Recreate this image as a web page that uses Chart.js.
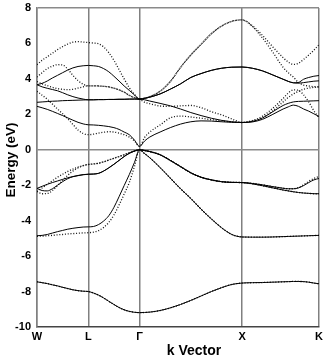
<!DOCTYPE html>
<html><head><meta charset="utf-8">
<script src="https://cdn.jsdelivr.net/npm/chart.js@4"></script>
<style>html,body{margin:0;padding:0;background:#fff}canvas{display:block}</style>
</head><body>
<canvas id="c" width="325" height="358"></canvas>
<script>
// k-path positions (W-L, L-Γ, Γ-X, X-K)
const K_PATH = [0,0.05,0.1,0.15,0.2,0.25,0.3,0.35,0.4,0.45,0.5,
  0.55,0.6,0.65,0.7,0.75,0.8,0.85,0.9,0.95,1.0,
  1.05,1.1,1.2,1.3,1.4,1.5,1.6,1.7,1.8,1.9,2.0,
  2.1,2.2,2.3,2.4,2.45,2.5,2.55,2.6,2.65,2.7,2.75];
const TICK_POS = [0, 0.5, 1, 2, 2.75];
const TICK_LABELS = ['W', 'L', 'Γ', 'X', 'K'];
const Y_TICKS = [8, 6, 4, 2, 0, -2, -4, -6, -8, -10];
const X_TITLE = 'k Vector';
const Y_TITLE = 'Energy (eV)';

// Solid-line bands (eV)
const S_V1 = [-7.45,-7.5,-7.55,-7.62,-7.68,-7.76,-7.83,-7.9,-7.95,-7.98,-8.0,
  -8.08,-8.2,-8.36,-8.55,-8.73,-8.9,-9.03,-9.12,-9.17,-9.19,
  -9.18,-9.16,-9.07,-8.92,-8.73,-8.5,-8.25,-8.0,-7.78,-7.6,-7.52,
  -7.5,-7.49,-7.47,-7.45,-7.44,-7.43,-7.43,-7.44,-7.47,-7.52,-7.56];
const S_V2 = [-4.85,-4.83,-4.78,-4.7,-4.62,-4.55,-4.48,-4.43,-4.39,-4.36,-4.35,
  -4.33,-4.22,-4.02,-3.72,-3.25,-2.65,-2.02,-1.4,-0.72,0,
  -0.22,-0.45,-1.0,-1.6,-2.2,-2.75,-3.35,-3.9,-4.4,-4.78,-4.92,
  -4.93,-4.93,-4.92,-4.9,-4.89,-4.88,-4.87,-4.86,-4.85,-4.84,-4.83];
const S_V3 = [-2.18,-2.06,-1.95,-1.85,-1.76,-1.67,-1.58,-1.51,-1.46,-1.41,-1.38,
  -1.37,-1.33,-1.2,-1.02,-0.82,-0.6,-0.38,-0.2,-0.07,0,
  -0.04,-0.1,-0.28,-0.6,-0.95,-1.3,-1.55,-1.7,-1.8,-1.84,-1.85,
  -1.9,-1.98,-2.08,-2.17,-2.2,-2.2,-2.15,-2.02,-1.85,-1.7,-1.62];
const S_V4 = [-2.18,-2.3,-2.32,-2.2,-2.0,-1.8,-1.63,-1.52,-1.45,-1.4,-1.38,
  -1.37,-1.33,-1.2,-1.02,-0.82,-0.6,-0.38,-0.2,-0.07,0,
  -0.04,-0.1,-0.28,-0.6,-0.95,-1.3,-1.55,-1.7,-1.8,-1.84,-1.85,
  -1.92,-2.03,-2.15,-2.27,-2.32,-2.37,-2.41,-2.44,-2.46,-2.48,-2.48];
const S_C1 = [2.45,2.37,2.28,2.17,2.05,1.93,1.8,1.67,1.55,1.46,1.41,
  1.4,1.38,1.35,1.31,1.25,1.15,1.0,0.85,0.55,0.19,
  0.5,0.72,1.0,1.25,1.45,1.58,1.63,1.62,1.58,1.55,1.54,
  1.6,1.8,2.15,2.5,2.62,2.7,2.73,2.74,2.75,2.76,2.77];
const S_C2 = [2.68,2.7,2.72,2.74,2.75,2.77,2.78,2.79,2.8,2.81,2.82,
  2.82,2.83,2.83,2.84,2.84,2.85,2.85,2.86,2.86,2.86,
  2.82,2.75,2.62,2.48,2.3,2.1,1.93,1.78,1.66,1.58,1.54,
  1.57,1.72,2.0,2.3,2.42,2.52,2.45,2.3,2.18,2.03,1.88];
const S_C3 = [3.67,3.55,3.47,3.4,3.33,3.22,3.1,3.0,2.92,2.86,2.82,
  2.82,2.83,2.83,2.84,2.84,2.85,2.85,2.86,2.86,2.86,
  2.9,2.97,3.15,3.42,3.72,4.08,4.3,4.48,4.6,4.66,4.67,
  4.6,4.45,4.22,3.98,3.86,3.78,3.76,3.79,3.83,3.87,3.89];
const S_C4 = [3.67,3.75,3.88,4.05,4.2,4.35,4.5,4.62,4.7,4.74,4.76,
  4.74,4.7,4.58,4.4,4.15,3.88,3.6,3.35,3.1,2.86,
  2.9,2.97,3.15,3.42,3.72,4.08,4.3,4.48,4.6,4.66,4.67,
  4.6,4.45,4.22,3.98,3.86,3.78,3.8,3.98,4.08,4.15,4.19];

// Dotted-line bands (eV)
const D_V1 = [-7.45,-7.5,-7.55,-7.62,-7.68,-7.76,-7.83,-7.9,-7.95,-7.98,-8.0,
  -8.08,-8.2,-8.36,-8.55,-8.73,-8.9,-9.03,-9.12,-9.17,-9.19,
  -9.18,-9.16,-9.07,-8.92,-8.73,-8.5,-8.25,-8.0,-7.78,-7.6,-7.52,
  -7.5,-7.49,-7.47,-7.45,-7.44,-7.43,-7.43,-7.44,-7.47,-7.52,-7.56];
const D_V2 = [-4.88,-4.87,-4.85,-4.83,-4.8,-4.78,-4.75,-4.73,-4.71,-4.69,-4.68,
  -4.65,-4.56,-4.38,-4.1,-3.68,-3.12,-2.5,-1.85,-0.95,0,
  -0.22,-0.45,-1.0,-1.6,-2.2,-2.75,-3.35,-3.9,-4.4,-4.78,-4.92,
  -4.93,-4.93,-4.92,-4.9,-4.89,-4.88,-4.87,-4.86,-4.85,-4.84,-4.83];
const D_V3 = [-2.35,-2.15,-1.95,-1.75,-1.55,-1.38,-1.22,-1.09,-0.98,-0.89,-0.83,
  -0.8,-0.76,-0.68,-0.58,-0.48,-0.38,-0.28,-0.17,-0.08,0,
  -0.04,-0.1,-0.28,-0.6,-0.95,-1.3,-1.55,-1.7,-1.8,-1.84,-1.85,
  -1.9,-1.98,-2.08,-2.17,-2.2,-2.2,-2.13,-1.98,-1.78,-1.62,-1.5];
const D_V4 = [-2.35,-2.48,-2.47,-2.3,-2.02,-1.72,-1.44,-1.2,-1.02,-0.9,-0.83,
  -0.8,-0.76,-0.68,-0.58,-0.48,-0.38,-0.28,-0.17,-0.08,0,
  -0.04,-0.1,-0.28,-0.6,-0.95,-1.3,-1.55,-1.7,-1.8,-1.84,-1.85,
  -1.92,-2.03,-2.15,-2.27,-2.32,-2.37,-2.41,-2.44,-2.46,-2.48,-2.48];
const D_C1 = [3.3,3.08,2.85,2.58,2.3,2.03,1.75,1.43,1.12,0.92,0.85,
  0.88,0.94,0.99,1.02,1.0,0.94,0.85,0.72,0.5,0.19,
  0.7,1.0,1.4,1.8,1.9,1.85,1.78,1.7,1.63,1.57,1.54,
  1.65,1.9,2.35,2.9,3.2,3.38,3.35,3.1,2.7,2.2,1.8];
const D_C2 = [3.85,3.72,3.62,3.52,3.45,3.41,3.39,3.41,3.48,3.55,3.61,
  3.61,3.6,3.58,3.55,3.48,3.38,3.25,3.07,2.94,2.86,
  2.68,2.6,2.47,2.45,2.48,2.5,2.38,2.15,1.97,1.74,1.54,
  1.62,1.8,2.2,2.7,2.95,3.15,3.3,3.42,3.48,3.52,3.55];
const D_C3 = [4.1,4.35,4.58,4.72,4.8,4.78,4.55,4.2,3.9,3.7,3.61,
  3.61,3.6,3.58,3.55,3.48,3.38,3.25,3.07,2.94,2.86,
  2.92,3.0,3.3,3.85,4.65,5.35,5.95,6.55,6.98,7.25,7.33,
  6.95,6.3,5.5,4.65,4.35,4.1,3.8,3.65,3.6,3.56,3.55];
const D_C4 = [4.8,5.05,5.25,5.45,5.65,5.82,5.97,6.07,6.1,6.08,6.05,
  6.02,5.98,5.8,5.48,5.05,4.52,4.0,3.5,3.12,2.86,
  2.92,3.0,3.3,3.85,4.65,5.35,5.95,6.55,6.98,7.25,7.33,
  7.0,6.45,5.8,5.2,4.95,4.82,4.88,5.1,5.35,5.62,5.93];

const SOLID = [S_V1, S_V2, S_V3, S_V4, S_C1, S_C2, S_C3, S_C4];
const DOTTED = [D_V1, D_V2, D_V3, D_V4, D_C1, D_C2, D_C3, D_C4];

const toPts = arr => K_PATH.map((k, i) => ({x: k, y: arr[i]}));
const datasets = [];
SOLID.forEach(b => datasets.push({
  data: toPts(b), showLine: true, borderColor: '#000', borderWidth: 1,
  pointRadius: 0, cubicInterpolationMode: 'monotone', fill: false
}));
DOTTED.forEach(b => datasets.push({
  data: toPts(b), showLine: true, borderColor: '#111', borderWidth: 1.3,
  borderDash: [1, 1.8], pointRadius: 0, cubicInterpolationMode: 'monotone', fill: false
}));

const FONT = '"Liberation Sans", Arial, sans-serif';
const titles = {
  id: 'titles',
  afterDraw(chart) {
    const c = chart.ctx;
    c.save();
    c.fillStyle = '#000';
    c.textAlign = 'center';
    c.textBaseline = 'alphabetic';
    c.font = 'bold 14px ' + FONT;
    c.fillText(X_TITLE, 194, 355);
    c.translate(15, 160);
    c.rotate(-Math.PI / 2);
    c.font = 'bold 13.5px ' + FONT;
    c.fillText(Y_TITLE, 0, 0);
    c.restore();
  }
};

new Chart(document.getElementById('c'), {
  type: 'scatter',
  data: { datasets },
  plugins: [titles],
  options: {
    responsive: false, animation: false, devicePixelRatio: 1,
    layout: { padding: { top: 8, right: 6, left: 0, bottom: 0 } },
    plugins: { legend: { display: false }, tooltip: { enabled: false } },
    scales: {
      x: {
        type: 'linear', min: 0, max: 2.75,
        afterBuildTicks: s => { s.ticks = TICK_POS.map(v => ({ value: v })); },
        afterFit: s => { s.height = 31; s.paddingLeft = 0; s.paddingRight = 0; },
        ticks: {
          autoSkip: false, maxRotation: 0, padding: 3, color: '#000',
          font: { family: FONT, size: 11, weight: 'bold' },
          callback: (v, i) => TICK_LABELS[i]
        },
        grid: { drawTicks: false, color: '#808080', lineWidth: 1.5 },
        border: { display: true, color: '#444', width: 1.5 }
      },
      y: {
        type: 'linear', min: -10, max: 8,
        afterBuildTicks: s => { s.ticks = Y_TICKS.map(v => ({ value: v })); },
        afterFit: s => { s.width = 37; s.paddingTop = 0; s.paddingBottom = 0; },
        ticks: {
          padding: 6, color: '#000',
          font: { family: FONT, size: 11, weight: 'bold' }
        },
        grid: {
          drawTicks: false, lineWidth: 1.5,
          color: ctx => (ctx.tick && (ctx.tick.value === 0 || ctx.tick.value === 8)) ? '#8a8a8a' : 'rgba(0,0,0,0)'
        },
        border: { display: true, color: '#808080', width: 1.5 }
      }
    }
  }
});
</script>
</body></html>
